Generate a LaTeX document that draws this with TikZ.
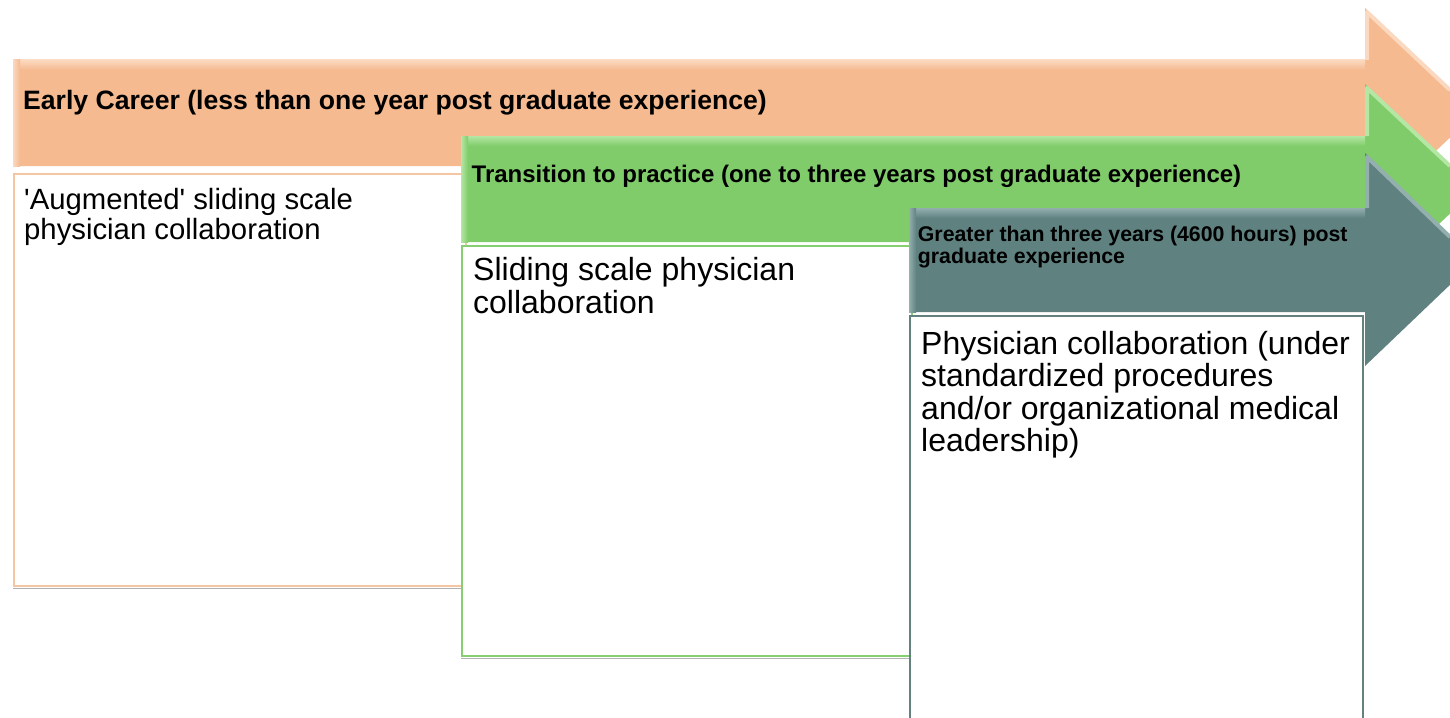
\documentclass[tikz,border=0pt]{standalone}
\usepackage{fontspec}
\setmainfont{Liberation Sans}
\usetikzlibrary{positioning}
\definecolor{peach}{HTML}{F5BA90}
\definecolor{peachlt}{HTML}{FBD9C0}
\definecolor{peachln}{HTML}{F6C6A2}
\definecolor{leaf}{HTML}{80CC6A}
\definecolor{leaflt}{HTML}{B4E6A4}
\definecolor{leafln}{HTML}{86CF70}
\definecolor{slate}{HTML}{5F8281}
\definecolor{slatelt}{HTML}{93AFAE}
\definecolor{slateln}{HTML}{62817F}
\tikzset{x=1pt, y=-1pt, % one unit is one pixel, y runs down
hdr/.style={anchor=base west, inner sep=0pt, font=\bfseries, align=left}, % stage title on the arrow (base = last line)
note/.style={anchor=base west, inner sep=0pt, align=left}, % text in the white box (base = last line)
card/.style={draw=#1, line width=2pt, fill=white, anchor=north west, inner sep=0pt}, % white box below an arrow
shadow/.style={draw=black!30, line width=1.5pt}, % grey line under a box
rim/.style={draw=#1, line width=4pt, line join=round}, % light bevel on the arrow head
}

\begin{document}
\begin{tikzpicture}
\useasboundingbox (0,0) rectangle (1450,717);
% early career
\fill[peach] (13,60) -- (1365,60) -- (1365,8) -- (1476,113) -- (1365,218) -- (1365,166) -- (13,166) -- cycle;
\shade[top color=peachlt, bottom color=peach] (13,60) rectangle (1365,70);
\shade[left color=peachlt, right color=peach] (13,60) rectangle (20,166);
\draw[rim=peachlt] (1367,60) -- (1367,12) -- (1450,90);
\node[card=peachln, minimum width=452, minimum height=412] (earlybox) at (13,173) {};
\draw[shadow] ([yshift=-1.5pt]earlybox.south west) -- ([yshift=-1.5pt]earlybox.south east);
\node[hdr, font=\bfseries\fontsize{26.6}{29}\selectfont] (early) at (23,109) {Early Career (less than one year post graduate experience)};
\node[note, font=\fontsize{29.3}{30}\selectfont] (earlytxt) at (24,239) {\textquotesingle Augmented\textquotesingle{} sliding scale\\physician collaboration};
% transition to practice
\fill[leaf] (461,136) -- (1365,136) -- (1365,84) -- (1476,189) -- (1365,294) -- (1365,242) -- (461,242) -- cycle;
\shade[top color=leaflt, bottom color=leaf] (461,136) rectangle (1365,146);
\shade[left color=leaflt, right color=leaf] (461,136) rectangle (468,242);
\draw[rim=leaflt] (1367,136) -- (1367,88) -- (1450,166);
\node[card=leafln, minimum width=450, minimum height=410] (transbox) at (461,245) {};
\draw[shadow] ([yshift=-1.5pt]transbox.south west) -- ([yshift=-1.5pt]transbox.south east);
\node[hdr, font=\bfseries\fontsize{24}{26}\selectfont] (transition) at (471.5,182.7) {Transition to practice (one to three years post graduate experience)};
\node[note, font=\fontsize{32}{33}\selectfont] (transtxt) at (473,313) {Sliding scale physician\\collaboration};
% greater than three years
\fill[slate] (909,208) -- (1365,208) -- (1365,153) -- (1476,260) -- (1365,366) -- (1365,312) -- (909,312) -- cycle;
\shade[top color=slatelt, bottom color=slate] (909,208) rectangle (1365,218);
\shade[left color=slatelt, right color=slate] (909,208) rectangle (916,312);
\draw[rim=slatelt] (1367,208) -- (1367,157) -- (1450,237);
\node[card=slateln, minimum width=453, minimum height=420] (seniorbox) at (909,315) {};
\node[hdr, font=\bfseries\fontsize{21.3}{22}\selectfont] (senior) at (917.7,263.7) {Greater than three years (4600 hours) post\\graduate experience};
\node[note, font=\fontsize{32}{32.5}\selectfont] (seniortxt) at (921,451.5) {Physician collaboration (under\\standardized procedures\\and/or organizational medical\\leadership)};
\end{tikzpicture}
\end{document}
